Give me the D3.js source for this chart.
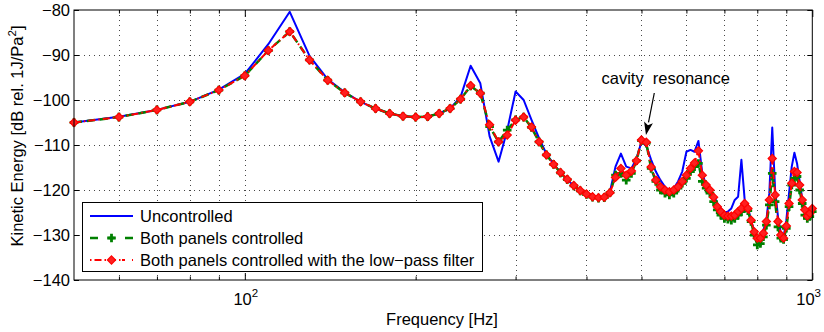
<!DOCTYPE html>
<html>
<head>
<meta charset="utf-8">
<script src="https://cdn.jsdelivr.net/npm/d3@7"></script>
<style>
  html, body { margin: 0; padding: 0; background: #fff; }
  svg { display: block; font-family: "Liberation Sans", Arial, Helvetica, sans-serif; }
</style>
</head>
<body>
<svg id="chart" width="824" height="332"></svg>
<script>
// ---------------- DATA ----------------
const freqs = [50,60,70,80,90,100,110,120,130,140,150,160,170,180,190,200,210,220,230,240,
  250,260,270,280,290,300,310,320,330,340,350,360,370,380,390,400,410,420,430,440,
  450,460,470,480,490,500,510,520,530,540,550,560,570,580,590,600,610,620,630,640,
  650,660,670,680,690,700,710,720,730,740,750,760,770,780,790,800,810,820,830,840,
  850,860,870,880,890,900,910,920,930,940,950,960,970,980,990,1000];

const uncontrolled = [-105.0,-103.7,-102.2,-100.4,-97.7,-94.2,-87.6,-80.4,-90.2,-95.4,
  -98.3,-100.4,-101.9,-103.0,-103.6,-103.8,-103.7,-103.0,-101.9,-99.3,
  -92.4,-96.3,-108.1,-113.7,-106.7,-98.1,-100.0,-104.4,-108.5,-112.0,
  -114.2,-116.1,-117.8,-119.0,-120.1,-120.9,-121.5,-121.6,-121.5,-120.4,
  -114.8,-111.9,-114.8,-115.2,-113.0,-109.3,-110.2,-113.3,-115.9,-117.8,
  -119.3,-120.1,-119.6,-118.1,-115.9,-111.5,-111.1,-111.5,-109.1,-116.3,
  -118.9,-119.6,-121.1,-122.9,-124.1,-125.0,-124.8,-124.1,-122.2,-121.5,
  -113.3,-122.2,-123.7,-126.9,-128.9,-131.1,-130.4,-128.9,-126.7,-120.7,
  -106.1,-120.0,-125.9,-129.6,-130.4,-126.7,-120.7,-114.8,-111.7,-114.1,
  -118.1,-122.0,-124.1,-125.6,-125.6,-124.0];

const bothControlled = [-105.0,-103.8,-102.2,-100.4,-97.8,-94.6,-89.0,-84.8,-91.1,-95.6,
  -98.4,-100.4,-101.9,-103.0,-103.6,-103.8,-103.7,-103.0,-101.9,-99.8,
  -96.9,-98.5,-105.9,-109.3,-106.7,-104.4,-103.8,-106.1,-109.3,-112.2,
  -114.3,-116.2,-117.7,-119.1,-120.2,-121.0,-121.6,-121.8,-121.7,-120.6,
  -116.7,-116.3,-117.8,-116.3,-113.5,-109.0,-109.6,-115.2,-118.1,-120.0,
  -120.7,-121.1,-120.7,-119.6,-118.5,-117.4,-115.9,-114.8,-114.1,-118.1,
  -119.6,-120.7,-122.6,-124.4,-125.6,-126.3,-126.5,-126.7,-126.3,-125.6,
  -124.8,-123.3,-124.6,-127.0,-130.0,-132.2,-131.9,-130.4,-127.8,-123.3,
  -116.3,-122.6,-128.2,-130.7,-131.0,-128.5,-123.7,-118.9,-117.4,-117.0,
  -120.0,-123.0,-125.6,-126.3,-125.9,-124.8];

const lowPassControlled = [-105.0,-103.8,-102.2,-100.4,-97.8,-94.6,-89.0,-84.8,-91.1,-95.6,
  -98.4,-100.4,-101.9,-103.0,-103.6,-103.8,-103.7,-103.0,-101.9,-99.8,
  -96.8,-98.5,-105.5,-109.3,-107.8,-104.5,-103.8,-106.0,-109.3,-112.2,
  -114.3,-116.1,-117.6,-119.0,-120.1,-120.9,-121.5,-121.7,-121.6,-120.6,
  -117.2,-115.2,-116.7,-115.8,-113.5,-108.9,-109.4,-114.9,-117.8,-119.3,
  -120.0,-120.4,-120.0,-119.3,-118.1,-116.7,-115.2,-114.0,-111.3,-116.7,
  -118.9,-120.0,-121.6,-123.7,-124.8,-125.6,-125.8,-125.8,-125.6,-124.8,
  -124.1,-123.0,-124.1,-126.7,-129.3,-130.7,-130.7,-129.6,-127.0,-122.2,
  -113.0,-121.1,-127.0,-130.0,-130.7,-128.0,-123.0,-118.5,-115.9,-116.1,
  -118.9,-122.2,-124.4,-125.8,-125.2,-124.1];

const yTicks = [-140,-130,-120,-110,-100,-90,-80];
const xMajorTicks = [100, 1000];
const xMinorTicks = [60,70,80,90,200,300,400,500,600,700,800,900];
const xMajorLabels = ["2", "3"]; // exponents of 10
const seriesNames = ["Uncontrolled", "Both panels controlled", "Both panels controlled with the low\u2212pass filter"];
const annotationText = "cavity  resonance";
const annotationFreq = 500;
const annotationValue = -108.9;

// ---------------- LAYOUT ----------------
const svg = d3.select("#chart");
const L = 74, R = 812.3, T = 10, B = 280;
const x = d3.scaleLog().domain([50, 1000]).range([L, R]);
const y = d3.scaleLinear().domain([-140, -80]).range([B, T]);
const FS = 16.5;

// grid
const grid = svg.append("g").attr("stroke", "#000").attr("stroke-width", 0.9)
  .attr("stroke-dasharray", "1,4").attr("opacity", 0.8);
grid.selectAll("line.gy").data(yTicks.filter(v => v > -140 && v < -80)).join("line")
  .attr("x1", L).attr("x2", R).attr("y1", d => y(d) + 0.5).attr("y2", d => y(d) + 0.5);
grid.selectAll("line.gx").data(xMinorTicks.concat([100])).join("line")
  .attr("y1", T).attr("y2", B).attr("x1", d => Math.round(x(d)) + 0.5).attr("x2", d => Math.round(x(d)) + 0.5);

// series
const lineGen = vals => d3.line().x((d, i) => x(freqs[i])).y(d => y(d))(vals);

svg.append("path").attr("d", lineGen(uncontrolled))
  .attr("fill", "none").attr("stroke", "#0000ff").attr("stroke-width", 2).attr("stroke-linejoin", "round");

svg.append("path").attr("d", lineGen(bothControlled))
  .attr("fill", "none").attr("stroke", "#008000").attr("stroke-width", 2.5)
  .attr("stroke-dasharray", "8,5");

const plusPath = s => `M${-s},0H${s}M0,${-s}V${s}`;
svg.append("g").selectAll("path").data(bothControlled).join("path")
  .attr("transform", (d, i) => `translate(${x(freqs[i])},${y(d)})`)
  .attr("d", plusPath(4.3)).attr("stroke", "#008000").attr("stroke-width", 2.8).attr("fill", "none");

svg.append("path").attr("d", lineGen(lowPassControlled))
  .attr("fill", "none").attr("stroke", "#ff0000").attr("stroke-width", 2)
  .attr("stroke-dasharray", "7,3,1.5,3");

const diamondPath = s => `M0,${-s}L${s},0L0,${s}L${-s},0Z`;
svg.append("g").selectAll("path").data(lowPassControlled).join("path")
  .attr("transform", (d, i) => `translate(${x(freqs[i])},${y(d)})`)
  .attr("d", diamondPath(4.1)).attr("fill", "#ff2020").attr("stroke", "#ff0000").attr("stroke-width", 1.2);

// axes box
svg.append("rect").attr("x", L).attr("y", T).attr("width", R - L).attr("height", B - T)
  .attr("fill", "none").attr("stroke", "#000").attr("stroke-width", 1);

// y ticks
const yAxis = svg.append("g").attr("transform", `translate(${L},0)`)
  .call(d3.axisLeft(y).tickValues(yTicks).tickSize(-5).tickPadding(4).tickSizeOuter(0));
yAxis.select(".domain").remove();
yAxis.selectAll("text").attr("font-size", FS).attr("font-family", "Liberation Sans, Arial, sans-serif").attr("fill", "#000");
const yAxisR = svg.append("g").attr("transform", `translate(${R},0)`)
  .call(d3.axisRight(y).tickValues(yTicks).tickSize(-5).tickFormat("").tickSizeOuter(0));
yAxisR.select(".domain").remove();

// x ticks (bottom & top)
const xBottom = svg.append("g").attr("transform", `translate(0,${B})`)
  .call(d3.axisBottom(x).tickValues(xMajorTicks).tickSize(-7).tickFormat("").tickSizeOuter(0));
xBottom.select(".domain").remove();
const xBottomMinor = svg.append("g").attr("transform", `translate(0,${B})`)
  .call(d3.axisBottom(x).tickValues(xMinorTicks).tickSize(-3.5).tickFormat("").tickSizeOuter(0));
xBottomMinor.select(".domain").remove();
const xTop = svg.append("g").attr("transform", `translate(0,${T})`)
  .call(d3.axisTop(x).tickValues(xMajorTicks).tickSize(-7).tickFormat("").tickSizeOuter(0));
xTop.select(".domain").remove();
const xTopMinor = svg.append("g").attr("transform", `translate(0,${T})`)
  .call(d3.axisTop(x).tickValues(xMinorTicks).tickSize(-3.5).tickFormat("").tickSizeOuter(0));
xTopMinor.select(".domain").remove();

// x major labels 10^n
xMajorTicks.forEach((v, i) => {
  const t = svg.append("text").attr("y", 305).attr("font-size", FS).attr("fill", "#000");
  t.append("tspan").text("10");
  t.append("tspan").attr("font-size", 11.5).attr("dy", -8).text(xMajorLabels[i]);
  const w = t.node().getComputedTextLength();
  let cx = x(v) - w / 2 + 1;
  if (cx + w > 821) cx = 821 - w;
  t.attr("x", cx);
});

// axis titles
svg.append("text").attr("x", 442).attr("y", 325).attr("text-anchor", "middle")
  .attr("font-size", FS).attr("fill", "#000").text("Frequency [Hz]");
const yl = svg.append("text").attr("transform", "translate(23,136) rotate(-90)")
  .attr("text-anchor", "middle").attr("font-size", FS).attr("fill", "#000");
yl.append("tspan").text("Kinetic Energy [dB rel. 1J/Pa");
yl.append("tspan").attr("font-size", 11.5).attr("dy", -7).text("2");
yl.append("tspan").attr("dy", 7).text("]");

// annotation
svg.append("text").attr("x", 601.5).attr("y", 84).attr("font-size", FS).attr("fill", "#000")
  .style("white-space", "pre").text(annotationText);
const tipX = x(annotationFreq) + 4.5, tipY = y(annotationValue) - 5;
const sx = 654.3, sy = 93;
const ang = Math.atan2(tipY - sy, tipX - sx);
const hl = 13, hw = 4.5;
const bx = tipX - hl * Math.cos(ang), by = tipY - hl * Math.sin(ang);
svg.append("line").attr("x1", sx).attr("y1", sy).attr("x2", bx).attr("y2", by)
  .attr("stroke", "#000").attr("stroke-width", 1.2);
svg.append("path").attr("d",
  `M${tipX},${tipY}L${bx + hw * Math.sin(ang)},${by - hw * Math.cos(ang)}L${bx + 3 * Math.cos(ang)},${by + 3 * Math.sin(ang)}L${bx - hw * Math.sin(ang)},${by + hw * Math.cos(ang)}Z`)
  .attr("fill", "#000");

// legend
const lg = svg.append("g");
lg.append("rect").attr("x", 82.5).attr("y", 202.5).attr("width", 400).attr("height", 69)
  .attr("fill", "#fff").attr("stroke", "#000").attr("stroke-width", 1);
const rows = [222, 244, 266];
rows.forEach((by0, i) => {
  lg.append("text").attr("x", 140).attr("y", by0).attr("font-size", FS).attr("fill", "#000").text(seriesNames[i]);
});
const ly = rows.map(r => r - 6);
lg.append("line").attr("x1", 90).attr("x2", 133).attr("y1", ly[0]).attr("y2", ly[0])
  .attr("stroke", "#0000ff").attr("stroke-width", 2);
lg.append("line").attr("x1", 90).attr("x2", 133).attr("y1", ly[1]).attr("y2", ly[1])
  .attr("stroke", "#008000").attr("stroke-width", 2.5).attr("stroke-dasharray", "8,10.5,6,10.5,8");
lg.append("path").attr("transform", `translate(111.5,${ly[1]})`).attr("d", plusPath(4.3))
  .attr("stroke", "#008000").attr("stroke-width", 2.8);
lg.append("line").attr("x1", 90).attr("x2", 133).attr("y1", ly[2]).attr("y2", ly[2])
  .attr("stroke", "#ff0000").attr("stroke-width", 2).attr("stroke-dasharray", "1.5,3,7,3,1.5,3,7,3,1.5");
lg.append("path").attr("transform", `translate(111.5,${ly[2]})`).attr("d", diamondPath(4.1))
  .attr("fill", "#ff2020").attr("stroke", "#ff0000").attr("stroke-width", 1.2);
</script>
</body>
</html>
